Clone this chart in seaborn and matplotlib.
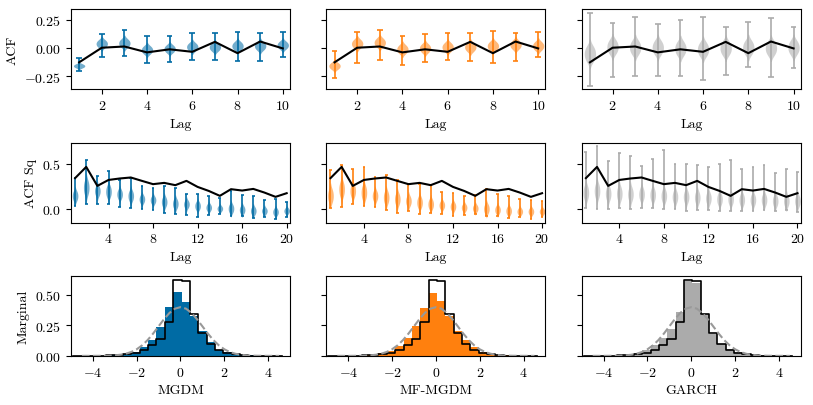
import numpy as np
import pandas as pd
import matplotlib
matplotlib.use("Agg")
import matplotlib.pyplot as plt
import seaborn as sns

plt.rcParams["font.family"] = ["cmr10", "DejaVu Serif"]
plt.rcParams["mathtext.fontset"] = "cm"
plt.rcParams["axes.formatter.use_mathtext"] = True
plt.rcParams["font.size"] = 10

models = ["MGDM", "MF-MGDM", "GARCH"]
colors = ["#006BA4", "#FF800E", "#ABABAB"]

lags_acf = list(range(1, 11))
lags_sq = list(range(1, 21))

# empirical (real data) autocorrelations
real_acf = [-0.125, 0.004, 0.015, -0.037, -0.01, -0.032, 0.056, -0.044, 0.059, -0.002]
real_acf_sq = [0.34, 0.463, 0.255, 0.32, 0.336, 0.347, 0.31, 0.274, 0.288, 0.263,
               0.31, 0.244, 0.2, 0.146, 0.219, 0.204, 0.222, 0.182, 0.135, 0.175]

# ACF of generated samples: min, lower quartile, median, upper quartile, max
mgdm_acf_lo = [-0.206, -0.079, -0.073, -0.127, -0.118, -0.103, -0.103, -0.112, -0.112, -0.077]
mgdm_acf_q1 = [-0.169, 0.015, 0.018, -0.041, -0.030, -0.014, -0.016, -0.007, -0.007, 0.002]
mgdm_acf_med = [-0.156, 0.04, 0.045, -0.015, -0.005, 0.012, 0.01, 0.02, 0.02, 0.027]
mgdm_acf_q3 = [-0.143, 0.065, 0.072, 0.011, 0.020, 0.038, 0.036, 0.047, 0.047, 0.052]
mgdm_acf_hi = [-0.088, 0.126, 0.159, 0.106, 0.106, 0.132, 0.132, 0.144, 0.138, 0.147]

mf_acf_lo = [-0.265, -0.132, -0.106, -0.15, -0.118, -0.106, -0.112, -0.127, -0.112, -0.077]
mf_acf_q1 = [-0.178, 0.012, 0.022, -0.037, -0.028, -0.018, -0.018, -0.008, 0.002, -0.008]
mf_acf_med = [-0.156, 0.04, 0.05, -0.009, 0.0, 0.01, 0.01, 0.02, 0.03, 0.02]
mf_acf_q3 = [-0.134, 0.068, 0.078, 0.019, 0.028, 0.038, 0.038, 0.048, 0.058, 0.048]
mf_acf_hi = [-0.029, 0.147, 0.159, 0.109, 0.121, 0.138, 0.132, 0.15, 0.132, 0.147]

garch_acf_lo = [-0.333, -0.253, -0.244, -0.244, -0.25, -0.282, -0.238, -0.162, -0.253, -0.179]
garch_acf_q1 = [-0.10, -0.033, -0.039, -0.039, -0.048, -0.055, -0.045, -0.039, -0.045, -0.039]
garch_acf_med = [-0.05, 0.012, 0.006, 0.006, -0.003, -0.01, 0.0, 0.006, 0.0, 0.006]
garch_acf_q3 = [0.0, 0.057, 0.051, 0.051, 0.042, 0.035, 0.045, 0.051, 0.045, 0.051]
garch_acf_hi = [0.315, 0.22, 0.277, 0.212, 0.25, 0.28, 0.188, 0.232, 0.265, 0.188]

# ACF of squared returns
mgdm_sq_lo = [0.036, 0.062, 0.062, 0.055, 0.026, 0.018, 0.0, -0.011, -0.047, -0.055,
              -0.066, -0.091, -0.066, -0.055, -0.073, -0.08, -0.102, -0.091, -0.109, -0.091]
mgdm_sq_q1 = [0.106, 0.177, 0.16, 0.146, 0.126, 0.104, 0.077, 0.069, 0.041, 0.022,
              0.024, 0.003, -0.01, -0.015, -0.028, -0.038, -0.049, -0.043, -0.058, -0.041]
mgdm_sq_med = [0.146, 0.237, 0.2, 0.193, 0.164, 0.146, 0.11, 0.1, 0.08, 0.06,
               0.055, 0.036, 0.018, 0.007, 0.007, -0.007, -0.018, -0.018, -0.03, -0.018]
mgdm_sq_q3 = [0.186, 0.297, 0.24, 0.24, 0.202, 0.188, 0.143, 0.131, 0.119, 0.098,
              0.086, 0.069, 0.046, 0.029, 0.042, 0.024, 0.013, 0.007, -0.002, 0.005]
mgdm_sq_hi = [0.339, 0.536, 0.364, 0.419, 0.317, 0.339, 0.255, 0.23, 0.255, 0.237,
              0.171, 0.164, 0.146, 0.117, 0.2, 0.157, 0.139, 0.098, 0.109, 0.084]

mf_sq_lo = [0.011, 0.029, 0.055, 0.036, 0.029, -0.011, -0.047, -0.025, -0.055, -0.047,
            -0.055, -0.073, -0.066, -0.055, -0.073, -0.073, -0.098, -0.091, -0.109, -0.084]
mf_sq_q1 = [0.092, 0.16, 0.15, 0.126, 0.105, 0.078, 0.063, 0.05, 0.029, 0.015,
            0.012, -0.003, -0.01, -0.018, -0.034, -0.038, -0.05, -0.051, -0.052, -0.048]
mf_sq_med = [0.146, 0.219, 0.2, 0.182, 0.146, 0.128, 0.11, 0.09, 0.073, 0.055,
             0.044, 0.03, 0.018, 0.01, 0.004, -0.007, -0.018, -0.025, -0.025, -0.025]
mf_sq_q3 = [0.2, 0.278, 0.25, 0.238, 0.187, 0.178, 0.157, 0.13, 0.117, 0.095,
            0.076, 0.063, 0.046, 0.038, 0.042, 0.024, 0.014, 0.001, 0.002, -0.002]
mf_sq_hi = [0.427, 0.485, 0.441, 0.467, 0.347, 0.372, 0.317, 0.281, 0.281, 0.263,
            0.193, 0.182, 0.146, 0.157, 0.219, 0.164, 0.146, 0.109, 0.102, 0.091]

garch_sq_lo = [0.011, 0.004, 0.0, 0.011, 0.0, 0.018, 0.011, 0.0, 0.0, -0.018,
               -0.01, -0.01, -0.018, -0.018, -0.018, -0.018, -0.01, -0.025, -0.01, -0.036]
garch_sq_q1 = [0.124, 0.142, 0.118, 0.116, 0.112, 0.114, 0.107, 0.096, 0.087, 0.087,
               0.08, 0.074, 0.064, 0.064, 0.057, 0.057, 0.057, 0.046, 0.046, 0.046]
garch_sq_med = [0.18, 0.2, 0.17, 0.17, 0.164, 0.164, 0.157, 0.146, 0.135, 0.135,
                0.128, 0.12, 0.11, 0.11, 0.102, 0.102, 0.102, 0.09, 0.09, 0.09]
garch_sq_q3 = [0.236, 0.258, 0.222, 0.224, 0.216, 0.214, 0.207, 0.196, 0.183, 0.183,
               0.176, 0.166, 0.156, 0.156, 0.147, 0.147, 0.147, 0.134, 0.134, 0.134]
garch_sq_hi = [0.627, 0.693, 0.528, 0.616, 0.587, 0.474, 0.55, 0.645, 0.5, 0.496,
               0.485, 0.467, 0.5, 0.536, 0.441, 0.467, 0.485, 0.394, 0.441, 0.412]

# marginal densities (25 bins)
bin_edges = np.linspace(-4.907, 4.618, 26)
real_hist = [0.0003, 0.0005, 0.001, 0.002, 0.004, 0.008, 0.015, 0.025, 0.05, 0.09, 0.137, 0.28,
             0.62, 0.61, 0.34, 0.19, 0.098, 0.05, 0.025, 0.012, 0.006, 0.003, 0.002, 0.001, 0.0005]
mgdm_hist = [0.0003, 0.0005, 0.001, 0.002, 0.004, 0.008, 0.015, 0.03, 0.07, 0.13, 0.24, 0.40,
             0.52, 0.445, 0.33, 0.2, 0.117, 0.05, 0.03, 0.015, 0.008, 0.004, 0.002, 0.001, 0.0005]
mf_hist = [0.0003, 0.0005, 0.001, 0.002, 0.005, 0.01, 0.02, 0.04, 0.08, 0.144, 0.244, 0.393,
           0.515, 0.447, 0.325, 0.2, 0.127, 0.07, 0.035, 0.015, 0.008, 0.004, 0.002, 0.001, 0.0005]
garch_hist = [0.0003, 0.0005, 0.001, 0.002, 0.005, 0.011, 0.022, 0.045, 0.09, 0.145, 0.22, 0.358,
              0.61, 0.597, 0.339, 0.176, 0.095, 0.055, 0.03, 0.015, 0.008, 0.004, 0.002, 0.001, 0.0005]

# standard normal reference curve
norm_x = [-4.5, -4.25, -4.0, -3.75, -3.5, -3.25, -3.0, -2.75, -2.5, -2.25, -2.0, -1.75, -1.5,
          -1.25, -1.0, -0.75, -0.5, -0.25, 0.0, 0.25, 0.5, 0.75, 1.0, 1.25, 1.5, 1.75, 2.0,
          2.25, 2.5, 2.75, 3.0, 3.25, 3.5, 3.75, 4.0, 4.25, 4.5]
norm_y = [0.0, 0.0001, 0.0001, 0.0004, 0.0009, 0.002, 0.0044, 0.0091, 0.0175, 0.0317, 0.054,
          0.0863, 0.1295, 0.1826, 0.242, 0.3011, 0.3521, 0.3867, 0.3989, 0.3867, 0.3521,
          0.3011, 0.242, 0.1826, 0.1295, 0.0863, 0.054, 0.0317, 0.0175, 0.0091, 0.0044,
          0.002, 0.0009, 0.0004, 0.0001, 0.0001, 0.0]

acf_stats = [
    (mgdm_acf_lo, mgdm_acf_q1, mgdm_acf_med, mgdm_acf_q3, mgdm_acf_hi),
    (mf_acf_lo, mf_acf_q1, mf_acf_med, mf_acf_q3, mf_acf_hi),
    (garch_acf_lo, garch_acf_q1, garch_acf_med, garch_acf_q3, garch_acf_hi),
]
sq_stats = [
    (mgdm_sq_lo, mgdm_sq_q1, mgdm_sq_med, mgdm_sq_q3, mgdm_sq_hi),
    (mf_sq_lo, mf_sq_q1, mf_sq_med, mf_sq_q3, mf_sq_hi),
    (garch_sq_lo, garch_sq_q1, garch_sq_med, garch_sq_q3, garch_sq_hi),
]
model_hists = [mgdm_hist, mf_hist, garch_hist]


def draw_violins(ax, lags, stats, real, color):
    lo, q1, med, q3, hi = stats
    df = pd.DataFrame({
        "lag": lags * 3,
        "value": q1 + med + q3,
    })
    sns.violinplot(data=df, x="lag", y="value", native_scale=True, orient="x",
                   color=color, saturation=1, inner=None, cut=2, width=0.5,
                   density_norm="width", linewidth=0, alpha=0.55, ax=ax)
    lags_arr = np.array(lags, dtype=float)
    ax.vlines(lags_arr, lo, hi, color=color, linewidth=1.2)
    ax.hlines(lo, lags_arr - 0.125, lags_arr + 0.125, color=color, linewidth=1.2)
    ax.hlines(hi, lags_arr - 0.125, lags_arr + 0.125, color=color, linewidth=1.2)
    sns.lineplot(x=lags, y=real, color="black", linewidth=1.5, ax=ax, zorder=5)


fig, axes = plt.subplots(3, 3, figsize=(8.13, 4.06), dpi=100, sharey="row")
fig.subplots_adjust(left=0.0873, right=0.985, top=0.975, bottom=0.121,
                    wspace=0.166, hspace=0.667)

bins = bin_edges.tolist()
bin_mid = ((bin_edges[:-1] + bin_edges[1:]) / 2).tolist()

for j, (model, color) in enumerate(zip(models, colors)):
    ax = axes[0, j]
    draw_violins(ax, lags_acf, acf_stats[j], real_acf, color)
    ax.set_xlim(0.64, 10.32)
    ax.set_ylim(-0.362, 0.345)
    ax.set_xticks([2, 4, 6, 8, 10])
    ax.set_yticks([-0.25, 0.0, 0.25])
    ax.set_xlabel("Lag")
    ax.set_ylabel("ACF" if j == 0 else "")

    ax = axes[1, j]
    draw_violins(ax, lags_sq, sq_stats[j], real_acf_sq, color)
    ax.set_xlim(0.63, 20.3)
    ax.set_ylim(-0.146, 0.73)
    ax.set_xticks([4, 8, 12, 16, 20])
    ax.set_yticks([0.0, 0.5])
    ax.set_xlabel("Lag")
    ax.set_ylabel("ACF Sq" if j == 0 else "")

    ax = axes[2, j]
    hist_df = pd.DataFrame({"x": bin_mid, "model": model_hists[j], "real": real_hist})
    sns.histplot(data=hist_df, x="x", weights="model", bins=bins, element="step",
                 fill=True, color=color, alpha=1, linewidth=0, ax=ax)
    sns.histplot(data=hist_df, x="x", weights="real", bins=bins, element="step",
                 fill=False, color="black", linewidth=1.2, ax=ax)
    sns.lineplot(x=norm_x, y=norm_y, color="#999999", linestyle="--",
                 linewidth=1.5, ax=ax, zorder=5)
    ax.set_xlim(-5, 5)
    ax.set_ylim(0, 0.655)
    ax.set_xticks([-4, -2, 0, 2, 4])
    ax.set_yticks([0.0, 0.25, 0.5])
    ax.set_xlabel(model)
    ax.set_ylabel("Marginal" if j == 0 else "")

for ax in axes[:, 1:].flat:
    ax.tick_params(labelleft=False)

fig.savefig("out.png", dpi=100)
